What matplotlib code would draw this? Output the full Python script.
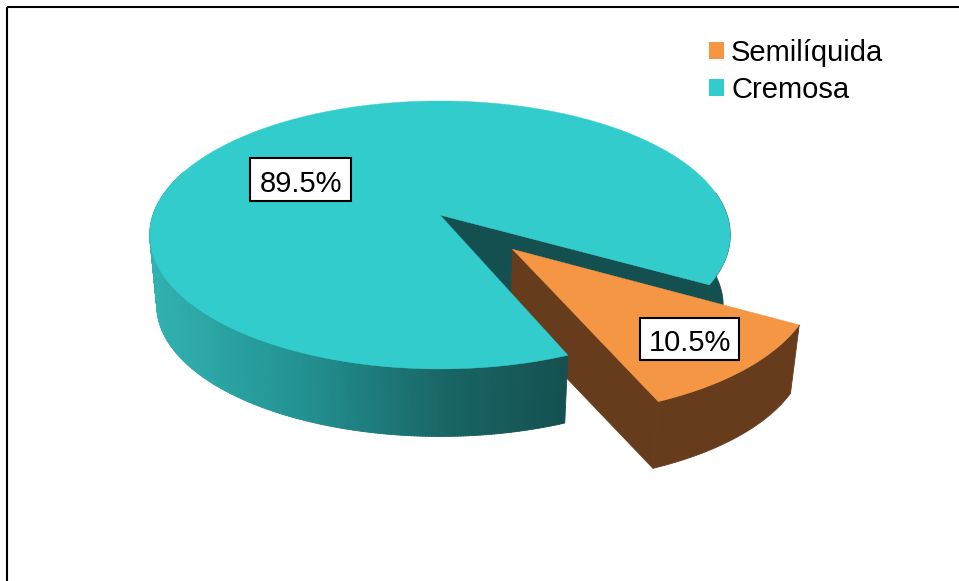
import numpy as np
import matplotlib
matplotlib.use('Agg')
import matplotlib.pyplot as plt
from matplotlib.patches import Polygon, Patch, Rectangle
from matplotlib.collections import PolyCollection

plt.rcParams['font.family'] = ['Liberation Sans', 'DejaVu Sans']

#dati
categorie = ['Semilíquida', 'Cremosa']
percentuali = [10.5, 89.5]
etichette = ['10.5%', '89.5%']

#colori
arancio = '#F59645'
marrone = '#663C1C'
turchese = '#32CCCC'
scuro = '#155050'

#posizione del disco, in pixel
inizio = 29.6
k = 0.149
cx = 440
sopra = (215, 287.0, 131.0)
sotto = (286, 280.0, 128.0)
stacco = 0.35
giro_stacco = -2.5


def proietta(x, y, piano):
    cy, rx, ry = piano
    d = 1 - k * y
    return np.column_stack([cx + rx * x / d, cy + ry * y / d])


def arco(a1, a2, piano, dx=0.0, dy=0.0):
    t = np.radians(np.linspace(a1, a2, 300))
    return proietta(np.cos(t) + dx, np.sin(t) + dy, piano)


def spicchio(a1, a2, dx=0.0, dy=0.0):
    centro = proietta(np.array([dx]), np.array([dy]), sopra)
    return np.vstack([centro, arco(a1, a2, sopra, dx, dy)])


def parete(a1, a2, piano_a=sopra, piano_b=sotto, dx=0.0, dy=0.0):
    return np.vstack([arco(a1, a2, piano_a, dx, dy), arco(a2, a1, piano_b, dx, dy)])


def faccia(a, c, dx=0.0, dy=0.0):
    #parete piana dal centro al bordo
    xs = np.array([dx, dx + np.cos(np.radians(a))])
    ys = np.array([dy, dy + np.sin(np.radians(a))])
    return Polygon(np.vstack([proietta(xs, ys, sopra), proietta(xs, ys, sotto)[::-1]]), fc=c, ec=c, lw=0.6)


fig = plt.figure(figsize=(9.59, 5.81), dpi=100)
ax = fig.add_axes([0, 0, 1, 1])

fine = inizio + percentuali[0] * 3.6
media = np.radians((inizio + fine) / 2 + giro_stacco)
dx, dy = stacco * np.cos(media), stacco * np.sin(media)

#parete interna del disco principale
ax.add_patch(faccia(inizio, scuro))
ax.add_patch(Polygon(parete(-10, inizio), fc=scuro, ec=scuro, lw=0.6))

#spicchio staccato
ax.add_patch(faccia(fine, marrone, dx, dy))
ax.add_patch(Polygon(parete(inizio, fine, dx=dx, dy=dy), fc=marrone, ec=marrone, lw=0.6))
ax.add_patch(Polygon(spicchio(inizio, fine, dx, dy), fc=arancio, ec=arancio, lw=0.3))

#parete esterna con sfumatura
angoli = np.arange(fine, 200, 0.5)
quadri = []
colori = []
x_sf = [150, 300, 450, 568]
r_sf = [(50, 178, 178), (35, 146, 146), (25, 100, 100), (21, 80, 80)]
for a in angoli:
    q = parete(a, a + 0.6)[[0, 299, 300, 599]]
    quadri.append(q)
    xm = q[:, 0].mean()
    colori.append([np.interp(xm, x_sf, [c[i] for c in r_sf]) / 255 for i in range(3)])
ax.add_collection(PolyCollection(quadri, facecolors=colori, edgecolors=colori, linewidths=0.6))

#faccia superiore del disco principale
ax.add_patch(Polygon(spicchio(fine, 360 + inizio), fc=turchese, ec=turchese, lw=0.3))

#etichette
box_etichette = [(640, 318, 99, 42), (250, 158, 101, 43)]
base_etichette = [351, 192]
for testo, (xb, yb, lb, hb), yt in zip(etichette, box_etichette, base_etichette):
    ax.add_patch(Rectangle((xb, yb), lb, hb, fc='white', ec='black', lw=1.5))
    ax.text(xb + lb / 2 + 0.5, yt, testo, fontsize=21, ha='center', va='baseline', color='black')

#legenda
maniglie = [Patch(color=arancio, lw=0), Patch(color=turchese, lw=0)]
ax.legend(maniglie, categorie, loc='upper left', bbox_to_anchor=(709, 39), bbox_transform=ax.transData,
          frameon=False, fontsize=21, borderpad=0, borderaxespad=0, handlelength=0.52, handleheight=0.52,
          handletextpad=0.24, labelspacing=0.3)

#cornice
ax.add_patch(Rectangle((7.2, 7.2), 1200, 800, fill=False, ec='black', lw=1.5))

ax.set_xlim(0, 959)
ax.set_ylim(581, 0)
ax.axis('off')
fig.savefig('out.png', dpi=100)
